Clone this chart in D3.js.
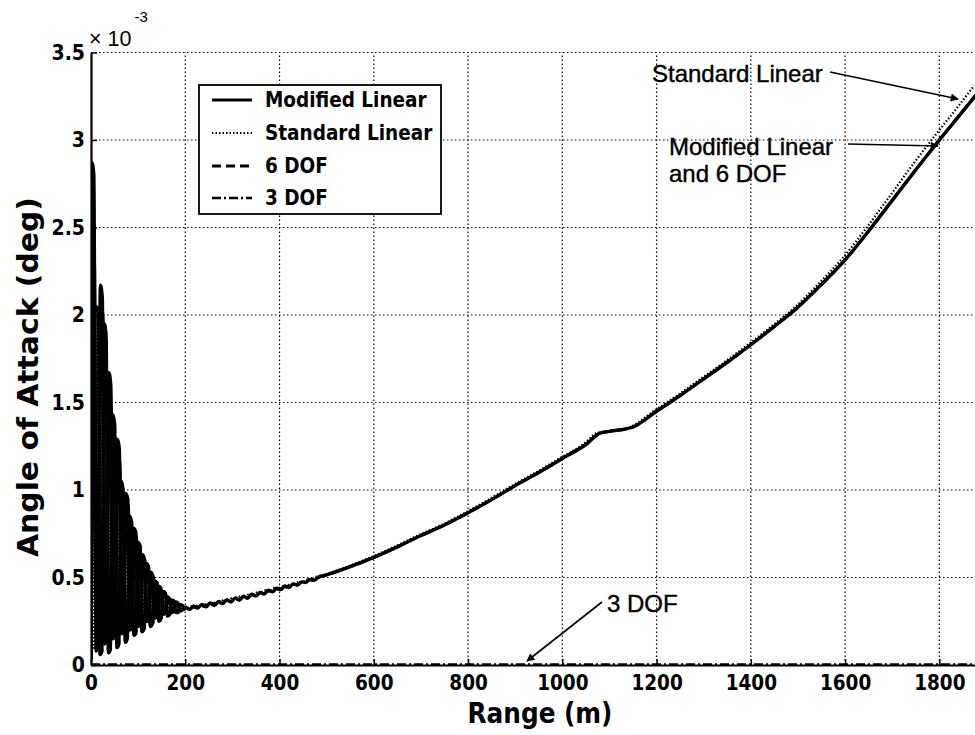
<!DOCTYPE html>
<html><head><meta charset="utf-8">
<script src="https://cdn.jsdelivr.net/npm/d3@7"></script>
<style>body{margin:0;background:#fff;overflow:hidden} svg{display:block}</style>
</head><body>
<script>
// ---------- DATA (angle of attack in units of 1e-3 deg) ----------
const xTicks = [0, 200, 400, 600, 800, 1000, 1200, 1400, 1600, 1800];
const yTicks = [0, 0.5, 1, 1.5, 2, 2.5, 3, 3.5];
const yTickLabels = ["0", "0.5", "1", "1.5", "2", "2.5", "3", "3.5"];

// Early transient, Modified Linear
const modEarlyRange = [0, 2, 6, 11, 14, 20, 24, 29, 32, 38, 42, 47, 50, 56, 60, 65, 68, 74, 78, 83, 86, 91, 95, 100, 104, 109, 113, 118, 122, 127, 131, 136, 140, 144, 148, 153, 157, 162, 166, 171, 175, 180, 184, 189, 193];
const modEarlyValue = [0.05, 2.87, 2.80, 0.08, 0.10, 2.17, 2.10, 0.12, 0.14, 1.67, 1.60, 0.15, 0.17, 1.29, 1.24, 0.18, 0.19, 0.98, 0.95, 0.20, 0.21, 0.78, 0.76, 0.22, 0.23, 0.63, 0.61, 0.25, 0.26, 0.53, 0.51, 0.27, 0.28, 0.45, 0.44, 0.29, 0.30, 0.39, 0.38, 0.30, 0.31, 0.36, 0.355, 0.31, 0.315];

// Early transient, Standard Linear
const stdEarlyRange = [0, 3, 7, 12, 15, 21, 25, 30, 33, 39, 43, 48, 51, 57, 61, 66, 69, 75, 79, 84, 87, 92, 96, 101, 105, 110, 114, 119, 123, 128, 132, 137, 141, 145, 149, 154, 158, 163, 167, 172, 176, 181, 185, 190, 194];
const stdEarlyValue = [0.04, 2.40, 2.30, 0.09, 0.11, 2.05, 2.00, 0.13, 0.15, 1.50, 1.45, 0.16, 0.18, 1.20, 1.15, 0.18, 0.20, 0.93, 0.90, 0.21, 0.22, 0.75, 0.73, 0.23, 0.24, 0.61, 0.60, 0.25, 0.26, 0.52, 0.50, 0.27, 0.28, 0.44, 0.43, 0.29, 0.30, 0.38, 0.375, 0.30, 0.31, 0.355, 0.35, 0.31, 0.315];

// Early transient, 6 DOF
const dofEarlyRange = [0, 9, 16, 19, 23, 28, 32, 37, 41, 46, 50, 55, 59, 64, 68, 73, 77, 82, 86, 91, 95, 100, 104, 108, 113, 117, 122, 126, 131, 135, 140, 144, 149, 153, 158, 162, 167, 171, 176, 180, 185, 189, 194, 198];
const dofEarlyValue = [0.03, 2.05, 2.02, 0.06, 0.08, 1.95, 1.88, 0.07, 0.09, 1.43, 1.38, 0.10, 0.12, 1.05, 1.00, 0.13, 0.15, 0.85, 0.82, 0.17, 0.18, 0.70, 0.68, 0.19, 0.21, 0.58, 0.56, 0.22, 0.24, 0.48, 0.47, 0.25, 0.27, 0.42, 0.41, 0.28, 0.29, 0.37, 0.365, 0.30, 0.30, 0.345, 0.34, 0.32];

// Trajectory after the transient (Modified Linear and 6 DOF coincide)
const tailRange = [200, 209, 218, 226, 235, 244, 253, 262, 271, 279, 288, 297, 306, 315, 323, 332, 341, 350, 359, 367, 376, 385, 394, 403, 411, 420, 429, 438, 447, 455, 464, 473, 482,
  500, 550, 600, 650, 700, 750, 800, 850, 900, 950, 1000, 1050, 1080, 1100, 1150, 1200, 1250, 1300, 1350, 1400, 1450, 1500, 1550, 1600, 1650, 1700, 1750, 1800, 1850, 1880];
const tailModified = [0.330, 0.318, 0.336, 0.326, 0.345, 0.333, 0.354, 0.342, 0.362, 0.351, 0.372, 0.361, 0.383, 0.371, 0.393, 0.382, 0.404, 0.394, 0.415, 0.406, 0.427, 0.418, 0.439, 0.431, 0.451, 0.444, 0.463, 0.457, 0.475, 0.471, 0.488, 0.484, 0.501,
  0.515, 0.562, 0.615, 0.675, 0.740, 0.800, 0.870, 0.945, 1.025, 1.100, 1.180, 1.260, 1.325, 1.335, 1.360, 1.450, 1.540, 1.635, 1.730, 1.830, 1.935, 2.045, 2.175, 2.315, 2.480, 2.655, 2.830, 3.000, 3.165, 3.265];
const tailStandard = [0.330, 0.318, 0.336, 0.326, 0.345, 0.333, 0.354, 0.342, 0.362, 0.351, 0.372, 0.361, 0.383, 0.371, 0.393, 0.382, 0.404, 0.394, 0.415, 0.406, 0.427, 0.418, 0.439, 0.431, 0.451, 0.444, 0.463, 0.457, 0.475, 0.471, 0.488, 0.484, 0.501,
  0.515, 0.562, 0.615, 0.675, 0.740, 0.800, 0.870, 0.945, 1.025, 1.100, 1.180, 1.260, 1.325, 1.335, 1.360, 1.450, 1.540, 1.635, 1.730, 1.830, 1.935, 2.045, 2.178, 2.322, 2.492, 2.675, 2.860, 3.035, 3.205, 3.310];

// 3 DOF stays at zero
const threeDofRange = [0, 1880];
const threeDofValue = [0.004, 0.004];

const legendLabels = ["Modified Linear", "Standard Linear", "6 DOF", "3 DOF"];

// ---------- DRAW ----------
const W = 975, H = 735;
const svg = d3.select("body").append("svg").attr("width", W).attr("height", H);
const x = d3.scaleLinear().domain([0, 1900]).range([91, 986.5]);
const y = d3.scaleLinear().domain([0, 3.5]).range([665, 52.5]);
const tickFont = "'DejaVu Sans Condensed', 'DejaVu Sans', sans-serif";
const defs = svg.append("defs");

defs.append("clipPath").attr("id", "clip")
  .append("rect").attr("x", x(0)).attr("y", y(3.5) - 2).attr("width", x(1900) - x(0)).attr("height", y(0) - y(3.5) + 4);

// grid
const grid = svg.append("g").attr("stroke", "#000").attr("stroke-width", 1.2).attr("stroke-dasharray", "1.5,2.5");
grid.selectAll(".gx").data(xTicks.filter(d => d > 0)).join("line")
  .attr("x1", d => x(d)).attr("x2", d => x(d)).attr("y1", y(0)).attr("y2", y(3.5));
grid.selectAll(".gy").data(yTicks.filter(d => d > 0)).join("line")
  .attr("x1", x(0)).attr("x2", x(1900)).attr("y1", d => y(d)).attr("y2", d => y(d));

// axes (MATLAB-like inward ticks)
const xAxis = d3.axisBottom(x).tickValues(xTicks).tickSizeInner(-6).tickSizeOuter(0).tickPadding(10).tickFormat(d3.format("d"));
const gx = svg.append("g").attr("transform", `translate(0,${y(0)})`).call(xAxis);
gx.select(".domain").attr("stroke-width", 2.2);
gx.selectAll(".tick line").attr("stroke-width", 1.5);
gx.selectAll("text").attr("font-family", tickFont).attr("font-weight", "bold").attr("font-size", 20.5).attr("fill", "#000");

const yAxis = d3.axisLeft(y).tickValues(yTicks).tickSizeInner(-6).tickSizeOuter(0).tickPadding(6)
  .tickFormat((d, i) => yTickLabels[i]);
const gy = svg.append("g").attr("transform", `translate(${x(0)},0)`).call(yAxis);
gy.select(".domain").attr("stroke-width", 2.2);
gy.selectAll(".tick line").attr("stroke-width", 1.5);
gy.selectAll("text").attr("font-family", tickFont).attr("font-weight", "bold").attr("font-size", 21).attr("fill", "#000");

// exponent label
const expG = svg.append("text").attr("x", 89).attr("y", 46).attr("font-family", "'Liberation Sans', Arial, sans-serif").attr("font-size", 21.5).attr("fill", "#000");
expG.append("tspan").text("× 10");
expG.append("tspan").attr("dx", 3).attr("dy", -24).attr("font-size", 15).text("-3");

// series
const line = d3.line().x(d => x(d[0])).y(d => y(d[1])).curve(d3.curveMonotoneX);
const plot = svg.append("g").attr("clip-path", "url(#clip)").attr("fill", "none").attr("stroke", "#000").attr("stroke-linejoin", "round");

const early = (r, v) => r.map((d, i) => [d, v[i]]);
const modEarly = early(modEarlyRange, modEarlyValue);
const stdEarly = early(stdEarlyRange, stdEarlyValue);
const dofEarly = early(dofEarlyRange, dofEarlyValue);
const modTail = early(tailRange, tailModified);
const stdTail = early(tailRange, tailStandard);

const modPts = modEarly.concat(modTail);
const stdPts = stdEarly.concat(stdTail);
const dofPts = dofEarly.concat(modTail);
const threePts = early(threeDofRange, threeDofValue);

plot.append("path").datum(threePts).attr("d", line).attr("stroke-width", 2).attr("stroke-dasharray", "9,3,2,3");
plot.append("path").datum(dofPts).attr("d", line).attr("stroke-width", 3).attr("stroke-dasharray", "9,5");
plot.append("path").datum(stdPts).attr("d", line).attr("stroke-width", 2.2).attr("stroke-dasharray", "1.5,2").attr("transform", "translate(-3,0)");
// in the dense transient the dashes of all series merge into solid ink
plot.append("path").datum(dofEarly.concat([modTail[0]])).attr("d", line).attr("stroke-width", 3.4);
plot.append("path").datum(stdEarly.concat([modTail[0]])).attr("d", line).attr("stroke-width", 3.4);
plot.append("path").datum(modPts).attr("d", line).attr("stroke-width", 3.4);

// legend
const lg = svg.append("g");
lg.append("rect").attr("x", 199).attr("y", 85).attr("width", 242).attr("height", 129).attr("fill", "#fff").attr("stroke", "#000").attr("stroke-width", 1.8);
const rowsY = [100, 133, 166, 198];
const dashes = [null, "1.5,2", "9,5", "9,3,2,3"];
const widths = [3.2, 2, 3, 2.5];
legendLabels.forEach((lab, i) => {
  lg.append("line").attr("x1", 212).attr("x2", 252).attr("y1", rowsY[i]).attr("y2", rowsY[i])
    .attr("stroke", "#000").attr("stroke-width", widths[i]).attr("stroke-dasharray", dashes[i]);
  lg.append("text").attr("x", 265).attr("y", rowsY[i]).attr("dy", "0.36em").attr("font-family", tickFont)
    .attr("font-weight", "bold").attr("font-size", 20.5).attr("fill", "#000").text(lab);
});

// annotations with arrows
defs.append("marker").attr("id", "ah").attr("viewBox", "0 0 10 10").attr("refX", 9).attr("refY", 5)
  .attr("markerWidth", 10).attr("markerHeight", 8).attr("markerUnits", "userSpaceOnUse").attr("orient", "auto")
  .append("path").attr("d", "M0,0 L10,5 L0,10 Z").attr("fill", "#000");

const annFont = "'Liberation Sans', Arial, sans-serif";
const ann = svg.append("g").attr("font-family", annFont).attr("font-size", 24).attr("fill", "#000")
  .attr("stroke", "#000").attr("stroke-width", 0.4);
ann.append("text").attr("x", 652).attr("y", 82).text("Standard Linear");
ann.append("text").attr("x", 669).attr("y", 155).text("Modified Linear");
ann.append("text").attr("x", 669).attr("y", 182).text("and 6 DOF");
ann.append("text").attr("x", 607).attr("y", 612).text("3 DOF");

const arrows = [
  [830, 72, 958, 99],
  [848, 144, 938, 146],
  [602, 602, 527, 661]
];
svg.append("g").selectAll("path").data(arrows).join("path")
  .attr("d", d => `M${d[0]},${d[1]} L${d[2]},${d[3]}`)
  .attr("stroke", "#000").attr("stroke-width", 1.6).attr("fill", "none").attr("marker-end", "url(#ah)");

// axis titles
svg.append("text").attr("x", 540).attr("y", 723).attr("text-anchor", "middle").attr("font-family", tickFont)
  .attr("font-weight", "bold").attr("font-size", 27.5).attr("fill", "#000").text("Range (m)");
svg.append("text").attr("transform", "translate(38,377) rotate(-90)").attr("text-anchor", "middle").attr("font-family", tickFont)
  .attr("font-weight", "bold").attr("font-size", 29).attr("textLength", 360).attr("lengthAdjust", "spacingAndGlyphs")
  .attr("fill", "#000").text("Angle of Attack (deg)");
</script>
</body></html>
